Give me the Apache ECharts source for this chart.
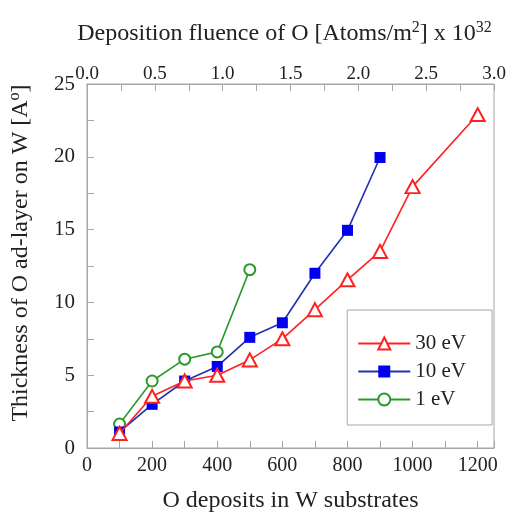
<!DOCTYPE html>
<html>
<head>
<meta charset="utf-8">
<script src="https://cdn.jsdelivr.net/npm/echarts@6/dist/echarts.min.js"></script>
<style>
  html, body { margin: 0; padding: 0; background: #fff; }
  #chart { width: 509px; height: 514px; }
</style>
</head>
<body>
<div id="chart"></div>
<script>
// O deposits (number of atoms) in the W substrate
const deposits30 = [100, 200, 300, 400, 500, 600, 700, 800, 900, 1000, 1200];
const thickness30 = [1.0, 3.55, 4.6, 5.0, 6.05, 7.5, 9.5, 11.55, 13.5, 17.95, 22.9];

const deposits10 = [100, 200, 300, 400, 500, 600, 700, 800, 900];
const thickness10 = [1.1, 3.0, 4.6, 5.6, 7.6, 8.6, 12.0, 14.95, 19.95];

const deposits1 = [100, 200, 300, 400, 500];
const thickness1 = [1.65, 4.6, 6.1, 6.6, 12.25];

const seriesNames = ['30 eV', '10 eV', '1 eV'];
const fluenceTicks = [0, 0.5, 1.0, 1.5, 2.0, 2.5, 3.0];

const FONT = '"Liberation Serif", "DejaVu Serif", serif';
const AXIS_GRAY = '#a6a6a6';
const TEXT = '#222';

function pairs(xs, ys) { return xs.map((x, i) => [x, ys[i]]); }

const chart = echarts.init(document.getElementById('chart'), null, { renderer: 'canvas' });

const supRich = {
  n: { fontFamily: FONT, fontSize: 24, color: TEXT },
  s: { fontFamily: FONT, fontSize: 16, color: TEXT, verticalAlign: 'top', padding: [0, 0, 12, 0] }
};

chart.setOption({
  backgroundColor: '#fff',
  animation: false,
  grid: {
    left: 87, right: 15, top: 84, bottom: 66,
    containLabel: false,
    outerBoundsMode: 'none',
    show: true, borderColor: AXIS_GRAY, borderWidth: 1, backgroundColor: 'transparent'
  },
  legend: {
    data: seriesNames,
    orient: 'vertical',
    right: 17, top: 310,
    padding: [23, 26, 15, 10],
    itemGap: 7,
    itemWidth: 52,
    itemHeight: 15,
    borderColor: AXIS_GRAY,
    borderWidth: 1,
    backgroundColor: '#fff',
    textStyle: { fontFamily: FONT, fontSize: 21, color: TEXT, padding: [0, 0, 0, 0] }
  },
  xAxis: [
    {
      type: 'value',
      position: 'bottom',
      min: 0, max: 1250, interval: 100,
      name: 'O deposits in W substrates',
      nameLocation: 'middle',
      nameGap: 41,
      nameTextStyle: { fontFamily: FONT, fontSize: 24, color: TEXT },
      axisLine: { show: true, lineStyle: { color: AXIS_GRAY, width: 1 } },
      axisTick: { show: true, inside: true, length: 7, lineStyle: { color: AXIS_GRAY } },
      splitLine: { show: false },
      axisLabel: {
        fontFamily: FONT, fontSize: 20, color: TEXT, margin: 8,
        formatter: v => (v % 200 === 0 && v <= 1200) ? String(v) : ''
      }
    },
    {
      type: 'value',
      position: 'top',
      min: 0, max: 3.0, interval: 0.25,
      name: '{n|Deposition fluence of O [Atoms/m}{s|2}{n|] x 10}{s|32}',
      nameLocation: 'middle',
      nameGap: 36,
      nameTextStyle: { rich: supRich, padding: [0, 12, 0, 0] },
      axisLine: { show: true, lineStyle: { color: AXIS_GRAY, width: 1 } },
      axisTick: { show: true, inside: true, length: 7, lineStyle: { color: AXIS_GRAY } },
      splitLine: { show: false },
      axisLabel: {
        fontFamily: FONT, fontSize: 19, color: TEXT, margin: 0,
        formatter: v => fluenceTicks.some(t => Math.abs(t - v) < 1e-9) ? v.toFixed(1) : ''
      }
    }
  ],
  yAxis: {
    type: 'value',
    min: 0, max: 25, interval: 5,
    name: '{n|Thickness of O ad-layer on W [A}{s|o}{n|]}',
    nameLocation: 'middle',
    nameGap: 52,
    nameRotate: 90,
    nameTextStyle: { rich: supRich, padding: [0, 0, 0, 26] },
    axisLine: { show: true, lineStyle: { color: AXIS_GRAY, width: 1 } },
    axisTick: { show: true, inside: true, length: 7, lineStyle: { color: AXIS_GRAY } },
    minorTick: { show: true, splitNumber: 2, length: 7, lineStyle: { color: AXIS_GRAY } },
    splitLine: { show: false },
    minorSplitLine: { show: false },
    axisLabel: { fontFamily: FONT, fontSize: 21, color: TEXT, margin: 12 }
  },
  series: [
    {
      name: '1 eV',
      type: 'line',
      xAxisIndex: 0,
      data: pairs(deposits1, thickness1),
      symbol: 'emptyCircle',
      symbolSize: 11,
      color: '#2a9a2a',
      lineStyle: { color: '#2a9a2a', width: 1.6 },
      itemStyle: { color: '#2a9a2a', borderWidth: 1.8 },
      z: 2
    },
    {
      name: '10 eV',
      type: 'line',
      xAxisIndex: 0,
      data: pairs(deposits10, thickness10),
      symbol: 'rect',
      symbolSize: 11,
      color: '#0000ee',
      lineStyle: { color: '#2030b0', width: 1.6 },
      itemStyle: { color: '#0000ee' },
      z: 3
    },
    {
      name: '30 eV',
      type: 'line',
      xAxisIndex: 0,
      data: pairs(deposits30, thickness30),
      symbol: 'emptyTriangle',
      symbolSize: [14, 13],
      color: '#ff2020',
      lineStyle: { color: '#ff2020', width: 1.6 },
      itemStyle: { color: '#ff2020', borderWidth: 1.8 },
      z: 4
    }
  ]
});
</script>
</body>
</html>
